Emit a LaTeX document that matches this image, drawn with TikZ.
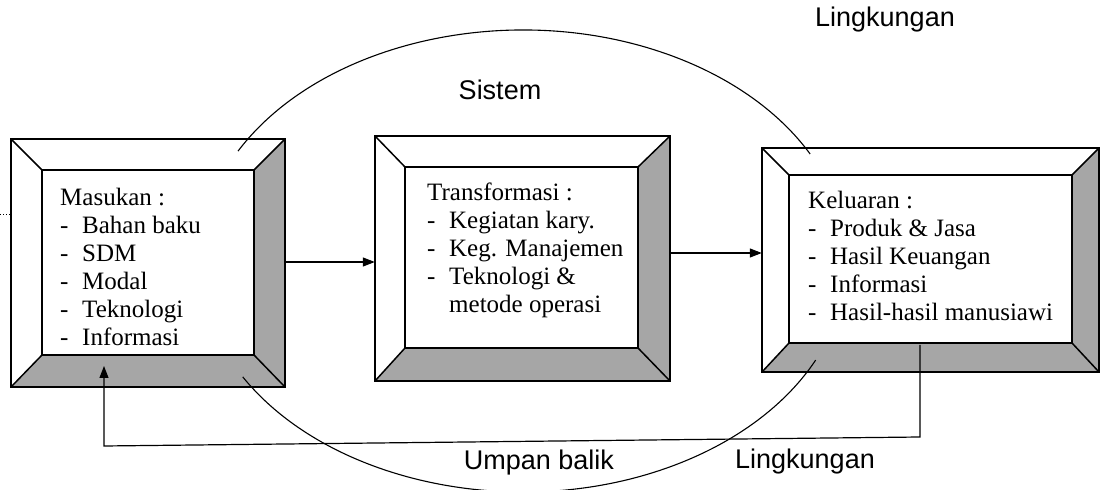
\documentclass[tikz,border=0pt]{standalone}
\usepackage{fontspec}
\setmainfont{Liberation Serif}
\newfontfamily\labfont{Liberation Sans}
\usetikzlibrary{arrows.meta,calc,fit}
\newcommand{\itm}[1]{\makebox[22pt][l]{-}#1}
% name, outer x1, outer top y(px), outer x2, outer bottom y(px), inner x1, inner top, inner x2, inner bottom
\newcommand{\bevbox}[9]{%
  \coordinate (#1-a) at (#2,490-#3);
  \coordinate (#1-b) at (#4,490-#3);
  \coordinate (#1-c) at (#4,490-#5);
  \coordinate (#1-d) at (#2,490-#5);
  \coordinate (#1-ia) at (#6,490-#7);
  \coordinate (#1-ib) at (#8,490-#7);
  \coordinate (#1-ic) at (#8,490-#9);
  \coordinate (#1-id) at (#6,490-#9);
  \fill[white] (#1-a) rectangle (#1-c);
  \fill[shade] (#1-b) -- (#1-c) -- (#1-ic) -- (#1-ib) -- cycle;
  \fill[shade] (#1-d) -- (#1-c) -- (#1-ic) -- (#1-id) -- cycle;
  \draw[frame] (#1-a) rectangle (#1-c);
  \draw[frame] (#1-ia) rectangle (#1-ic);
  \draw[frame] (#1-a) -- (#1-ia) (#1-b) -- (#1-ib) (#1-c) -- (#1-ic) (#1-d) -- (#1-id);
  \node[inner sep=0, fit=(#1-a)(#1-c)] (#1) {};
}
\tikzset{
  frame/.style={draw=black, line width=1.5pt, line join=miter},
  shade/.style={fill=black!35},
  boxtext/.style={inner sep=0, anchor=north west, align=left, font=\fontsize{25}{28}\selectfont},
  lab/.style={inner sep=0, font=\labfont\fontsize{27}{31}\selectfont},
  line/.style={draw=black, line width=1.2pt},
  arr/.style={line, -{Triangle[length=12pt,width=9pt]}},
}
\begin{document}
\begin{tikzpicture}[x=1pt,y=1pt]
\useasboundingbox (0,0) rectangle (1101,490);
\fill[white] (0,0) rectangle (1101,490);

\bevbox{b1}{11}{139}{285}{387}{42}{170}{254}{355}
\bevbox{b2}{375}{136}{670}{381}{405}{167}{638}{348}
\bevbox{b3}{762}{148}{1099}{372}{789}{175}{1072}{343}

% ellipse (Sistem boundary)
\coordinate (E) at (523,229);
\draw[line, line width=1.1pt] (E) ++(151.6:324pt and 231pt) arc[start angle=151.6, end angle=27.6, x radius=324pt, y radius=231pt];
\draw[line, line width=1.1pt] (E) ++(210.1:324pt and 231pt) arc[start angle=210.1, end angle=334.6, x radius=324pt, y radius=231pt];

% texts
\node[boxtext] (t1) at (60,490-188) {Masukan :\\\itm{Bahan baku}\\\itm{SDM}\\\itm{Modal}\\\itm{Teknologi}\\\itm{Informasi}};
\node[boxtext] (t2) at (427,490-183) {Transformasi :\\\itm{Kegiatan kary.}\\\itm{Keg. Manajemen}\\\itm{Teknologi \&}\\\hspace*{22pt}metode operasi};
\node[boxtext] (t3) at (808,490-191) {Keluaran :\\\itm{Produk \& Jasa}\\\itm{Hasil Keuangan}\\\itm{Informasi}\\\itm{Hasil-hasil manusiawi}};

\node[lab] (ling1) at (885,490-20) {Lingkungan};
\node[lab] (sis) at (500,490-90) {Sistem};
\node[lab] (ub) at (539,490-463) {Umpan balik};
\node[lab] (ling2) at (805,490-462) {Lingkungan};

% flow arrows
\draw[arr] (b1.east |- 0,490-262) -- (b2.west |- 0,490-262);
\draw[arr] (b2.east |- 0,490-253) -- (b3.west |- 0,490-253);

% feedback
\coordinate (fbs) at (920,490-345);
\coordinate (fbe) at (104,490-366);
\draw[arr] (fbs) -- (920,490-437) -- (104,490-446) -- (fbe);

% dotted stub
\coordinate (dot) at (0,490-215);
\draw[dotted, line width=1pt] (dot) -- (b1.west |- dot);
\end{tikzpicture}
\end{document}
